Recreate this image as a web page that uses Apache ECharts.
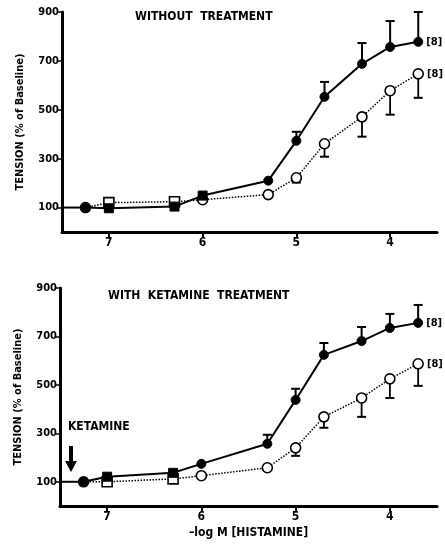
<!DOCTYPE html>
<html><head><meta charset="utf-8">
<script src="https://cdn.jsdelivr.net/npm/echarts@6/dist/echarts.min.js"></script>
<style>html,body{margin:0;padding:0;background:#fff}#c{width:445px;height:546px}</style>
</head><body><div id="c"></div>
<script>
// -log M [histamine]
const logDose = [7.25, 7, 6.3, 6, 5.3, 5, 4.7, 4.3, 4, 3.7];
// Top panel: without treatment
const topFilled = [100, 97, 104, 149, 210, 373, 553, 688, 757, 778];
const topFilledErr = [null, null, null, null, null, 410, 614, 773, 863, 900];
const topOpen = [100, 120, 124, 132, 153, 222, 361, 471, 578, 647];
const topOpenErr = [null, null, null, null, null, 202, 308, 390, 480, 549];
// Bottom panel: with ketamine treatment
const botFilled = [100, 121, 137, 174, 257, 438, 624, 681, 735, 756];
const botFilledErr = [null, null, null, null, 294, 484, 673, 739, 793, 830];
const botOpen = [100, 100, 112, 125, 158, 240, 368, 446, 525, 587];
const botOpenErr = [null, null, null, null, null, 207, 323, 368, 446, 496];
// baseline segment from axis to first point
const baseX = [7.5, 7.25];
const baseY = [100, 100];
const yTicks = [100, 300, 500, 700, 900];
const xTicks = [7, 6, 5, 4];
const nLabel = '[8]';
const topTitle = 'WITHOUT  TREATMENT';
const botTitle = 'WITH  KETAMINE  TREATMENT';
const ketLabel = 'KETAMINE';
const yName = 'TENSION (% of Baseline)';
const xName = '\u2013log M [HISTAMINE]';

const FONT = '"DejaVu Sans Condensed", "Liberation Sans Narrow", sans-serif';
const chart = echarts.init(document.getElementById('c'), null, {renderer: 'canvas'});

function xAxisDef(gi, showName) {
  return {
    type: 'value', gridIndex: gi, min: 3.5, max: 7.5, inverse: true,
    axisLine: {lineStyle: {color: '#000', width: 3}},
    axisTick: {customValues: xTicks, length: 5, lineStyle: {color: '#000', width: 2}},
    axisLabel: {customValues: xTicks, color: '#000', fontFamily: FONT, fontWeight: 'bold', fontSize: 12, margin: 5,
      formatter: v => String(Math.round(v))},
    splitLine: {show: false},
    name: showName ? xName : '', nameLocation: 'middle', nameGap: 21,
    nameTextStyle: {color: '#000', fontFamily: FONT, fontWeight: 'bold', fontSize: 12}
  };
}
function yAxisDef(gi) {
  return {
    type: 'value', gridIndex: gi, min: 0, max: 900,
    axisLine: {show: true, lineStyle: {color: '#000', width: 3}},
    axisTick: {show: true, customValues: yTicks, length: 4, lineStyle: {color: '#000', width: 1.5}},
    axisLabel: {customValues: yTicks, color: '#000', fontFamily: FONT, fontWeight: 'bold', fontSize: 11, margin: 3},
    splitLine: {show: false},
    name: yName, nameLocation: 'middle', nameRotate: 90, nameGap: 36,
    nameTextStyle: {color: '#000', fontFamily: FONT, fontWeight: 'bold', fontSize: 11}
  };
}
function pts(vals) { return logDose.map((x, i) => [x, vals[i]]); }
function errPts(vals, errs) {
  return logDose.map((x, i) => errs[i] == null ? null : [x, vals[i], errs[i]]).filter(Boolean);
}
const rectIdxFilled = [[1, 2, 3], [1, 2]];
const rectIdxOpen = [[1, 2], [1, 2]];
function lineSeries(gi, vals, filled) {
  const rects = filled ? rectIdxFilled[gi] : rectIdxOpen[gi];
  const data = pts(vals).map((p, i) => {
    const d = {value: p};
    if (i === vals.length - 1) {
      d.label = {show: true, formatter: nLabel, position: 'right', distance: 3,
        color: '#000', fontFamily: FONT, fontWeight: 'bold', fontSize: 11};
    }
    return d;
  });
  return {
    type: 'line', xAxisIndex: gi, yAxisIndex: gi, data,
    symbol: (v, params) => rects.includes(params.dataIndex) ? 'rect' : 'circle',
    symbolSize: filled ? 9 : 10,
    showAllSymbol: true,
    lineStyle: {color: '#000', width: filled ? 2 : 1.5, type: filled ? 'solid' : 'dotted'},
    itemStyle: filled ? {color: '#000', borderColor: '#000', borderWidth: 1}
                      : {color: '#fff', borderColor: '#000', borderWidth: 1.6},
    z: filled ? 5 : 4, animation: false
  };
}
function errSeries(gi, vals, errs, filled) {
  return {
    type: 'custom', xAxisIndex: gi, yAxisIndex: gi, data: errPts(vals, errs), z: 3, animation: false,
    renderItem(params, api) {
      const x = api.value(0), y = api.value(1), e = api.value(2);
      const p0 = api.coord([x, y]), p1 = api.coord([x, e]);
      const w = filled ? 2 : 1.8;
      return {type: 'group', children: [
        {type: 'line', shape: {x1: p0[0], y1: p0[1], x2: p1[0], y2: p1[1]}, style: {stroke: '#000', lineWidth: w}},
        {type: 'line', shape: {x1: p1[0] - 4.5, y1: p1[1], x2: p1[0] + 4.5, y2: p1[1]}, style: {stroke: '#000', lineWidth: 2}}
      ]};
    }
  };
}
function baseSeries(gi) {
  return {type: 'line', xAxisIndex: gi, yAxisIndex: gi, data: baseX.map((x, i) => [x, baseY[i]]),
    symbol: 'none', lineStyle: {color: '#000', width: 2}, z: 2, animation: false};
}

const option = {
  backgroundColor: '#fff',
  animation: false,
  grid: [
    {left: 62, top: 12, width: 375, height: 220},
    {left: 60, top: 288, width: 377, height: 218}
  ],
  xAxis: [xAxisDef(0, false), xAxisDef(1, true)],
  yAxis: [yAxisDef(0), yAxisDef(1)],
  series: [
    baseSeries(0),
    errSeries(0, topOpen, topOpenErr, false),
    errSeries(0, topFilled, topFilledErr, true),
    lineSeries(0, topOpen, false),
    lineSeries(0, topFilled, true),
    baseSeries(1),
    errSeries(1, botOpen, botOpenErr, false),
    errSeries(1, botFilled, botFilledErr, true),
    lineSeries(1, botOpen, false),
    lineSeries(1, botFilled, true)
  ],
  graphic: [
    {type: 'text', left: 135, top: 11, style: {text: topTitle, fill: '#000', font: 'bold 12px ' + FONT}},
    {type: 'text', left: 108, top: 290, style: {text: botTitle, fill: '#000', font: 'bold 12px ' + FONT}},
    {type: 'text', left: 68, top: 421, style: {text: ketLabel, fill: '#000', font: 'bold 12px ' + FONT}},
    {type: 'polygon', shape: {points: [[69, 446], [73, 446], [73, 461], [77, 461], [71, 472], [65, 461], [69, 461]]},
      style: {fill: '#000'}}
  ]
};
chart.setOption(option);
</script></body></html>
